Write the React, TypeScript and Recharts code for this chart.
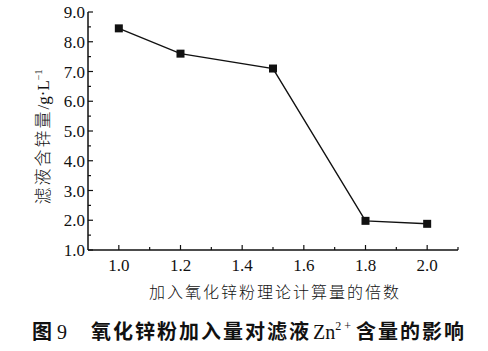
import React from 'react';
import { LineChart, Line, XAxis, YAxis, Label } from 'recharts';

const multiples = [1.0, 1.2, 1.5, 1.8, 2.0];
const zincContent = [8.45, 7.6, 7.1, 1.98, 1.88];
const xTicks = [0.9, 1.0, 1.1, 1.2, 1.3, 1.4, 1.5, 1.6, 1.7, 1.8, 1.9, 2.0, 2.1];
const xMajorLabels = ['1.0', '1.2', '1.4', '1.6', '1.8', '2.0'];
const yTicks = [1, 1.5, 2, 2.5, 3, 3.5, 4, 4.5, 5, 5.5, 6, 6.5, 7, 7.5, 8, 8.5, 9];
const xTitle = '加入氧化锌粉理论计算量的倍数';
const yTitleCJK = '滤液含锌量';
const captionA = '氧化锌粉加入量对滤液';
const captionB = '含量的影响';

const data = multiples.map((m, i) => ({ m, v: zincContent[i] }));

const SERIF = '"Liberation Serif", "DejaVu Serif", serif';
const CJK = '"Noto Sans CJK SC", sans-serif';
const INK = '#111';

const XTick = (props: any) => {
  const { x, y, payload } = props;
  const label = Number(payload.value).toFixed(1);
  const major = xMajorLabels.includes(label);
  if (Number(payload.value) < 0.95) return null;
  return (
    <g>
      <line x1={x} x2={x} y1={y} y2={y - (major ? 5 : 3)} stroke={INK} strokeWidth={1.2} />
      {major && (
        <text x={x} y={y + 21} textAnchor="middle" fontFamily={SERIF} fontSize={17} fill={INK}>
          {label}
        </text>
      )}
    </g>
  );
};

const YTick = (props: any) => {
  const { x, y, payload } = props;
  const val = Number(payload.value);
  const major = Math.abs(val - Math.round(val)) < 1e-6;
  return (
    <g>
      <line x1={x} x2={x + (major ? 5 : 3)} y1={y} y2={y} stroke={INK} strokeWidth={1.2} />
      {major && (
        <text x={x - 3} y={y + 6} textAnchor="end" fontFamily={SERIF} fontSize={17} fill={INK}>
          {val.toFixed(1)}
        </text>
      )}
    </g>
  );
};

const SquareDot = (props: any) => {
  const { cx, cy, index } = props;
  if (cx == null || cy == null) return null;
  const s = 8;
  return <rect key={index} x={cx - s / 2} y={cy - s / 2} width={s} height={s} fill={INK} />;
};

const XLabelContent = () => (
  <g>
    <text x={275} y={298} textAnchor="middle" fontFamily={CJK} fontSize={16} letterSpacing={2} fill={INK} fontWeight={300}>
      {xTitle}
    </text>
    <text x={32} y={339} textAnchor="start" fill={INK}>
      <tspan fontFamily={CJK} fontSize={20} fontWeight={700}>图</tspan>
      <tspan fontFamily={SERIF} fontSize={20} dx={5}>9</tspan>
      <tspan fontFamily={CJK} fontSize={20} fontWeight={700} dx={24} letterSpacing={2}>{captionA}</tspan>
      <tspan fontFamily={SERIF} fontSize={20} dx={2}>Zn</tspan>
      <tspan fontFamily={SERIF} fontSize={12} dy={-9}>2 +</tspan>
      <tspan fontFamily={CJK} fontSize={20} fontWeight={700} dy={9} dx={5} letterSpacing={2}>{captionB}</tspan>
    </text>
  </g>
);

const YLabelContent = () => (
  <text transform="translate(49,137) rotate(-90)" textAnchor="middle" fill={INK}>
    <tspan fontFamily={CJK} fontSize={17} fontWeight={300} letterSpacing={2}>{yTitleCJK}</tspan>
    <tspan fontFamily={SERIF} fontSize={17}>/g·L</tspan>
    <tspan fontFamily={SERIF} fontSize={10} dy={-7}>−1</tspan>
  </text>
);

export default function App() {
  return (
    <div style={{ position: 'absolute', left: 0, top: 0, width: 488, height: 351, background: '#fff' }}>
      <LineChart width={488} height={351} data={data} margin={{ top: 12, right: 30, bottom: 0, left: 28 }}>
        <XAxis
          dataKey="m"
          type="number"
          domain={[0.9, 2.1]}
          ticks={xTicks}
          interval={0}
          height={101}
          tickSize={0}
          tickMargin={0}
          tickLine={false}
          axisLine={{ stroke: INK, strokeWidth: 1.5 }}
          tick={<XTick />}
          allowDataOverflow
        >
          <Label content={<XLabelContent />} />
        </XAxis>
        <YAxis
          type="number"
          domain={[1, 9]}
          ticks={yTicks}
          interval={0}
          width={60}
          tickSize={0}
          tickMargin={0}
          tickLine={false}
          axisLine={{ stroke: INK, strokeWidth: 1.5 }}
          tick={<YTick />}
          allowDataOverflow
        >
          <Label content={<YLabelContent />} />
        </YAxis>
        <Line
          type="linear"
          dataKey="v"
          stroke={INK}
          strokeWidth={1.4}
          dot={<SquareDot />}
          activeDot={false}
          isAnimationActive={false}
        />
      </LineChart>
    </div>
  );
}
